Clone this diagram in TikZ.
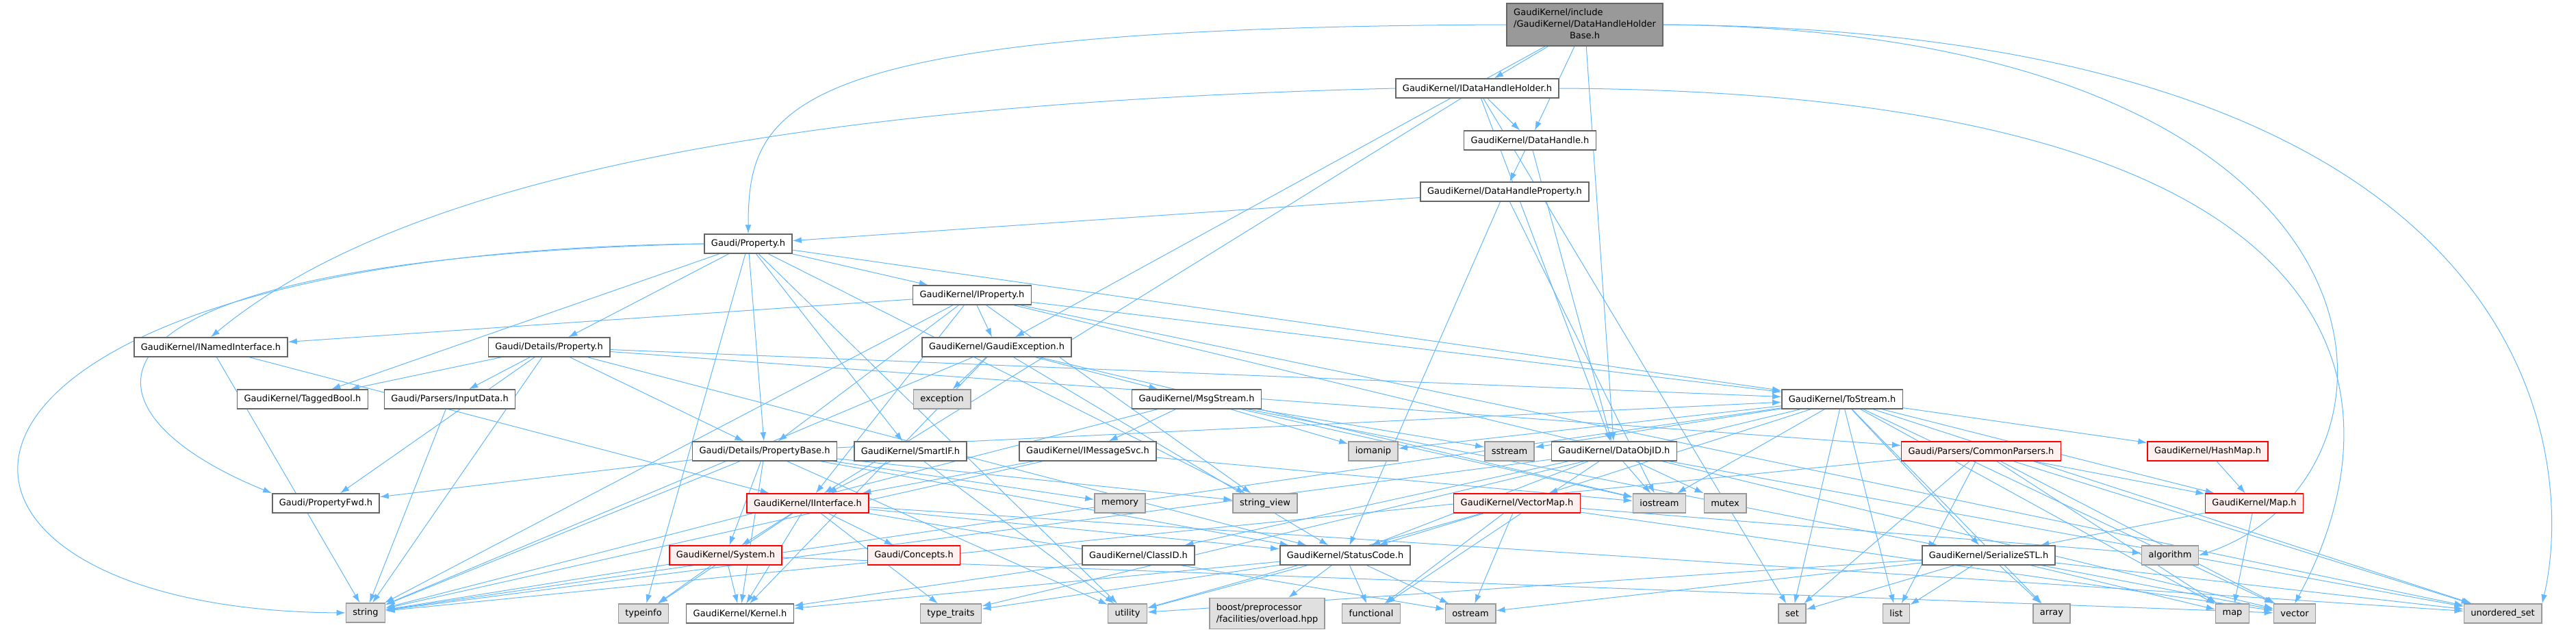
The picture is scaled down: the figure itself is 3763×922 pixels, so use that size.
\documentclass[tikz,border=0pt]{standalone}
\usepackage{fontspec}
\newfontfamily\graphfont{DejaVu Sans}
\usetikzlibrary{arrows.meta}
\usetikzlibrary{backgrounds}
\definecolor{edgeblue}{HTML}{63B8FF}
\definecolor{boxgray}{HTML}{666666}
\definecolor{sysgray}{HTML}{999999}
\definecolor{sysfill}{HTML}{E0E0E0}
\definecolor{partfill}{HTML}{FFF0F0}
\tikzset{>={Latex[length=6.5pt,width=4.5pt]}}
\tikzset{header/.style={draw=boxgray, fill=white, line width=0.75pt, minimum height=14pt, inner xsep=5pt, inner ysep=0pt, font=\graphfont\fontsize{6.5}{8.5}\selectfont}}
\tikzset{stdheader/.style={header, draw=sysgray, fill=sysfill}}
\tikzset{partial/.style={header, draw=red, fill=partfill}}
\tikzset{current/.style={header, fill=sysgray, minimum height=31pt}}
\tikzset{dep/.style={->, draw=edgeblue, line width=0.5pt}}

\begin{document}
\begin{tikzpicture}[x=0.5pt, y=-0.5pt]
    \useasboundingbox (0,0) rectangle (3763,922);

    % Nodes
    \node [current] (main) at (2315,36) {\begin{tabular}{@{}l@{}}GaudiKernel/include\\/GaudiKernel/DataHandleHolder\\\multicolumn{1}{@{}c@{}}{Base.h}\end{tabular}};
    \node [header] (idhh) at (2158,129) {GaudiKernel/IDataHandleHolder.h};
    \node [header] (dh) at (2235,205) {GaudiKernel/DataHandle.h};
    \node [header] (dhp) at (2198,280) {GaudiKernel/DataHandleProperty.h};
    \node [header] (gprop) at (1093,356) {Gaudi/Property.h};
    \node [header] (iprop) at (1420,431) {GaudiKernel/IProperty.h};
    \node [header] (inamed) at (308,507) {GaudiKernel/INamedInterface.h};
    \node [header] (detprop) at (802,507) {Gaudi/Details/Property.h};
    \node [header] (gexc) at (1456,507) {GaudiKernel/GaudiException.h};
    \node [header] (taggedbool) at (442,583) {GaudiKernel/TaggedBool.h};
    \node [header] (inputdata) at (657,583) {Gaudi/Parsers/InputData.h};
    \node [stdheader] (exc) at (1376,583) {exception};
    \node [header] (msgstream) at (1748,583) {GaudiKernel/MsgStream.h};
    \node [header] (tostream) at (2691,583) {GaudiKernel/ToStream.h};
    \node [header] (propbase) at (1117,659) {Gaudi/Details/PropertyBase.h};
    \node [header] (smartif) at (1330,659) {GaudiKernel/SmartIF.h};
    \node [header] (imsgsvc) at (1589,659) {GaudiKernel/IMessageSvc.h};
    \node [stdheader] (iomanip) at (2006,659) {iomanip};
    \node [stdheader] (sstream) at (2205,659) {sstream};
    \node [header] (doid) at (2358,659) {GaudiKernel/DataObjID.h};
    \node [partial] (cparsers) at (2894,659) {Gaudi/Parsers/CommonParsers.h};
    \node [partial] (hashmap) at (3225,659) {GaudiKernel/HashMap.h};
    \node [header] (propfwd) at (476,735) {Gaudi/PropertyFwd.h};
    \node [partial] (iinterface) at (1180,735) {GaudiKernel/IInterface.h};
    \node [stdheader] (memory) at (1636,735) {memory};
    \node [stdheader] (strview) at (1848,735) {string\_view};
    \node [partial] (vmap) at (2216,735) {GaudiKernel/VectorMap.h};
    \node [stdheader] (iostream) at (2424,735) {iostream};
    \node [stdheader] (mutex) at (2520,735) {mutex};
    \node [partial] (gkmap) at (3293,735) {GaudiKernel/Map.h};
    \node [partial] (system) at (1060,811) {GaudiKernel/System.h};
    \node [partial] (concepts) at (1335,811) {Gaudi/Concepts.h};
    \node [header] (classid) at (1663,811) {GaudiKernel/ClassID.h};
    \node [header] (statuscode) at (1965,811) {GaudiKernel/StatusCode.h};
    \node [header] (serstl) at (2905,811) {GaudiKernel/SerializeSTL.h};
    \node [stdheader] (algorithm) at (3170,811) {algorithm};
    \node [stdheader] (string) at (534,895) {string};
    \node [stdheader] (typeinfo) at (940,896) {typeinfo};
    \node [header] (kernel) at (1081,896) {GaudiKernel/Kernel.h};
    \node [stdheader] (typetraits) at (1389,896) {type\_traits};
    \node [stdheader] (utility) at (1647,896) {utility};
    \node [stdheader, align=left, minimum height=22.5pt] (boost) at (1851,896) {boost/preprocessor\\/facilities/overload.hpp};
    \node [stdheader] (functional) at (2003,896) {functional};
    \node [stdheader] (ostream) at (2148,896) {ostream};
    \node [stdheader] (set) at (2618,896) {set};
    \node [stdheader] (list) at (2770,896) {list};
    \node [stdheader] (array) at (2997,896) {array};
    \node [stdheader] (stdmap) at (3261,896) {map};
    \node [stdheader] (vector) at (3352,896) {vector};
    \node [stdheader] (uset) at (3656,896) {unordered\_set};

    \begin{scope}[on background layer]
    % Arrows from the file itself
    \draw [dep] (main) -- (idhh);
    \draw [dep] (main) -- (dh);
    \draw [dep] (main) -- (doid);
    \draw [dep] (main) -- (gexc);
    \draw [dep] (main.west) .. controls (1150,40) and (1093,150) .. (gprop.north);
    \draw [dep] (main.east) .. controls (3553,45) and (3553,700) .. (algorithm.east);
    \draw [dep] (main.east) .. controls (3757,45) and (3757,700) .. (uset.north east);

    % IDataHandleHolder.h
    \draw [dep] (idhh) -- (dh);
    \draw [dep] (idhh) -- (doid);
    \draw [dep] (idhh.west) .. controls (1200,150) and (600,250) .. (inamed.north);
    \draw [dep] (idhh) -- (iinterface);
    \draw [dep] (idhh) -- (set);
    \draw [dep] (idhh.east) .. controls (3505,135) and (3505,600) .. (vector.north);

    % DataHandle.h and DataHandleProperty.h
    \draw [dep] (dh) -- (dhp);
    \draw [dep] (dh) -- (doid);
    \draw [dep] (dhp) -- (gprop);
    \draw [dep] (dhp) -- (statuscode);
    \draw [dep] (dhp) -- (iostream);

    % Gaudi/Property.h
    \draw [dep] (gprop) -- (detprop);
    \draw [dep] (gprop) -- (propbase);
    \draw [dep] (gprop.west) .. controls (50,380) and (100,600) .. (propfwd.north west);
    \draw [dep] (gprop) -- (iprop);
    \draw [dep] (gprop) -- (smartif);
    \draw [dep] (gprop) -- (taggedbool);
    \draw [dep] (gprop) -- (tostream);
    \draw [dep] (gprop.west) .. controls (-200,370) and (-200,890) .. (string.west);
    \draw [dep] (gprop) -- (strview);
    \draw [dep] (gprop) -- (typeinfo);
    \draw [dep] (gprop) -- (utility);

    % IProperty.h
    \draw [dep] (iprop) -- (inamed);
    \draw [dep] (iprop) -- (string);
    \draw [dep] (iprop) -- (gexc);
    \draw [dep] (iprop) -- (propbase);
    \draw [dep] (iprop) -- (iinterface);
    \draw [dep] (iprop) -- (tostream);
    \draw [dep] (iprop) -- (strview);
    \draw [dep] (iprop) -- (vector);
    \draw [dep] (iprop) -- (uset);

    % INamedInterface.h
    \draw [dep] (inamed) -- (iinterface);
    \draw [dep] (inamed) -- (string);

    % Gaudi/Details/Property.h
    \draw [dep] (detprop) -- (taggedbool);
    \draw [dep] (detprop) -- (inputdata);
    \draw [dep] (detprop) -- (string);
    \draw [dep] (detprop) -- (propfwd);
    \draw [dep] (detprop) -- (propbase);
    \draw [dep] (detprop) -- (statuscode);
    \draw [dep] (detprop) -- (tostream);
    \draw [dep] (detprop) -- (cparsers);

    % GaudiException.h
    \draw [dep] (gexc) -- (exc);
    \draw [dep] (gexc) -- (msgstream);
    \draw [dep] (gexc) -- (statuscode);
    \draw [dep] (gexc) -- (iostream);
    \draw [dep] (gexc) -- (string);
    \draw [dep] (gexc) -- (kernel);

    % MsgStream.h and IMessageSvc.h
    \draw [dep] (msgstream) -- (imsgsvc);
    \draw [dep] (msgstream) -- (serstl);
    \draw [dep] (msgstream) -- (iomanip);
    \draw [dep] (msgstream) -- (iostream);
    \draw [dep] (msgstream) -- (sstream);
    \draw [dep] (msgstream) -- (string);
    \draw [dep] (imsgsvc) -- (iinterface);
    \draw [dep] (imsgsvc) -- (string);
    \draw [dep] (imsgsvc) -- (iostream);

    % SmartIF.h
    \draw [dep] (smartif) -- (iinterface);
    \draw [dep] (smartif) -- (utility);

    % ToStream.h
    \draw [dep] (tostream) -- (hashmap);
    \draw [dep] (tostream) -- (gkmap);
    \draw [dep] (tostream) -- (serstl);
    \draw [dep] (tostream) -- (vmap);
    \draw [dep] (tostream) -- (array);
    \draw [dep] (tostream) -- (iomanip);
    \draw [dep] (tostream) -- (iostream);
    \draw [dep] (tostream) -- (list);
    \draw [dep] (tostream) -- (stdmap);
    \draw [dep] (tostream) -- (set);
    \draw [dep] (tostream) -- (sstream);
    \draw [dep] (tostream) -- (string);
    \draw [dep] (tostream) -- (typetraits);
    \draw [dep] (tostream) -- (uset);
    \draw [dep] (tostream) -- (vector);

    % Gaudi/Details/PropertyBase.h
    \draw [dep] (propbase) -- (propfwd);
    \draw [dep] (propbase) -- (kernel);
    \draw [dep] (propbase) -- (system);
    \draw [dep] (propbase) -- (statuscode);
    \draw [dep] (propbase) -- (tostream);
    \draw [dep] (propbase) -- (string);
    \draw [dep] (propbase) -- (strview);
    \draw [dep] (propbase) -- (memory);
    \draw [dep] (propbase) -- (utility);

    % IInterface.h
    \draw [dep] (iinterface) -- (system);
    \draw [dep] (iinterface) -- (kernel);
    \draw [dep] (iinterface) -- (typetraits);
    \draw [dep] (iinterface) -- (concepts);
    \draw [dep] (iinterface) -- (typeinfo);
    \draw [dep] (iinterface) -- (statuscode);
    \draw [dep] (iinterface) -- (ostream);
    \draw [dep] (iinterface) -- (uset);

    % System.h and ClassID.h
    \draw [dep] (system) -- (kernel);
    \draw [dep] (system) -- (typeinfo);
    \draw [dep] (system) -- (string);
    \draw [dep] (system) -- (vector);
    \draw [dep] (classid) -- (kernel);

    % DataObjID.h
    \draw [dep] (doid) -- (classid);
    \draw [dep] (doid) -- (statuscode);
    \draw [dep] (doid) -- (functional);
    \draw [dep] (doid) -- (iostream);
    \draw [dep] (doid) -- (mutex);
    \draw [dep] (doid) -- (string);
    \draw [dep] (doid) -- (uset);

    % StatusCode.h
    \draw [dep] (statuscode) -- (boost);
    \draw [dep] (statuscode) -- (functional);
    \draw [dep] (statuscode) -- (ostream);
    \draw [dep] (statuscode) -- (typetraits);
    \draw [dep] (statuscode) -- (utility);
    \draw [dep] (statuscode) -- (kernel);

    % VectorMap.h
    \draw [dep] (vmap) -- (statuscode);
    \draw [dep] (vmap) -- (functional);
    \draw [dep] (vmap) -- (utility);
    \draw [dep] (vmap) -- (ostream);
    \draw [dep] (vmap) -- (algorithm);
    \draw [dep] (vmap) -- (vector);

    % HashMap.h, Map.h and SerializeSTL.h
    \draw [dep] (hashmap) -- (gkmap);
    \draw [dep] (gkmap) -- (serstl);
    \draw [dep] (gkmap) -- (stdmap);
    \draw [dep] (serstl) -- (array);
    \draw [dep] (serstl) -- (list);
    \draw [dep] (serstl) -- (stdmap);
    \draw [dep] (serstl) -- (ostream);
    \draw [dep] (serstl) -- (set);
    \draw [dep] (serstl) -- (uset);
    \draw [dep] (serstl) -- (utility);
    \draw [dep] (serstl) -- (vector);

    % CommonParsers.h and InputData.h
    \draw [dep] (cparsers) -- (gkmap);
    \draw [dep] (cparsers) -- (string);
    \draw [dep] (cparsers) -- (list);
    \draw [dep] (cparsers) -- (set);
    \draw [dep] (cparsers) -- (stdmap);
    \draw [dep] (cparsers) -- (vector);
    \draw [dep] (cparsers) -- (uset);
    \draw [dep] (inputdata) -- (string);
    \end{scope}

\end{tikzpicture}
\end{document}
